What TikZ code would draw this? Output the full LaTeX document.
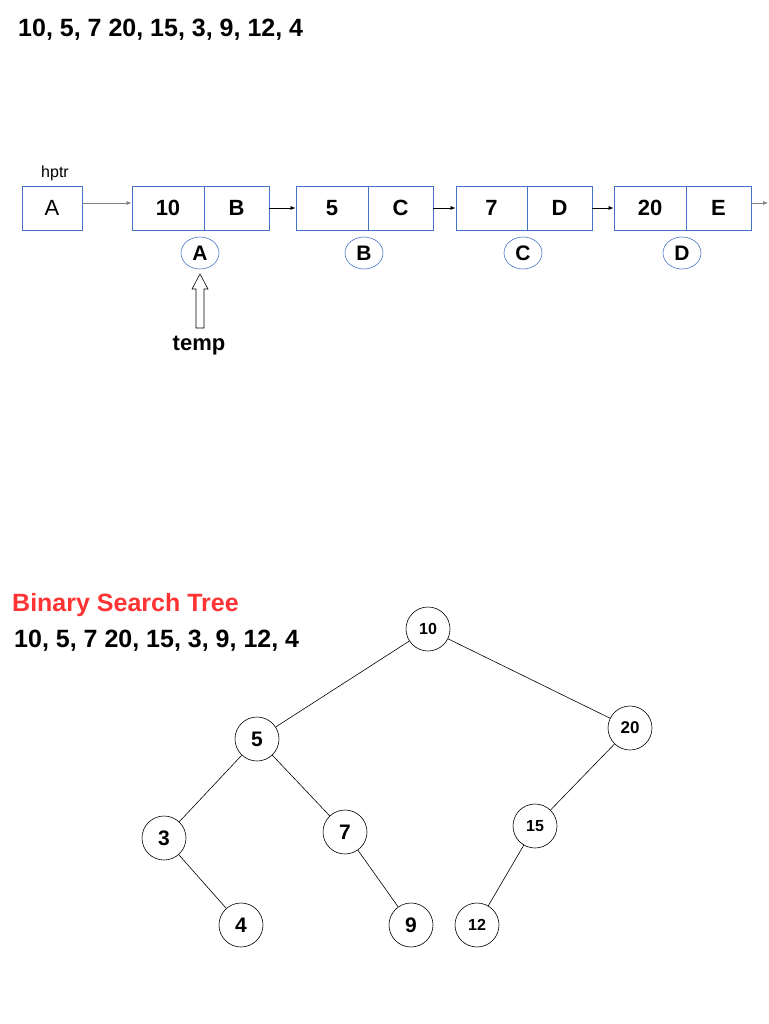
\documentclass[tikz,border=0pt]{standalone}
\usepackage{fontspec}
\setmainfont{Liberation Sans}
\usetikzlibrary{arrows.meta,shapes.geometric}
\definecolor{boxblue}{RGB}{68,114,196}
\definecolor{titlered}{RGB}{255,51,51}
\tikzset{
  cell/.style={draw=boxblue,line width=0.8pt,minimum height=44,inner sep=0,font=\fontsize{22}{26}\selectfont\bfseries},
  addr/.style={draw=boxblue,line width=0.6pt,ellipse,minimum width=38,minimum height=32,inner sep=0,font=\fontsize{21}{25}\selectfont\bfseries},
  link/.style={-{Latex[length=5pt,width=4pt]},line width=0.7pt},
  bst/.style={draw,circle,line width=0.6pt,minimum size=44,inner sep=0},
  big/.style={font=\fontsize{21}{25}\selectfont\bfseries},
  small/.style={font=\fontsize{16}{19}\selectfont\bfseries},
  headline/.style={anchor=west,inner sep=0,font=\fontsize{25}{30}\selectfont\bfseries},
}
\begin{document}
\begin{tikzpicture}[x=1pt,y=-1pt]
    \useasboundingbox (0,0) rectangle (768,1024);
    % linked list
    \node (seq) at (18,30) [headline] {10, 5, 7 20, 15, 3, 9, 12, 4};
    \node (hptr) at (52,208) [draw=boxblue,line width=0.8pt,minimum width=60,minimum height=44,inner sep=0,font=\fontsize{22}{26}\selectfont] {A};
    \node (hlbl) at (55,173) [font=\fontsize{16}{19}\selectfont] {hptr};
    \node (v1) at (168,208) [cell,minimum width=72] {10};
    \node (p1) at (236.5,208) [cell,minimum width=65] {B};
    \node (v2) at (332,208) [cell,minimum width=72] {5};
    \node (p2) at (400.5,208) [cell,minimum width=65] {C};
    \node (v3) at (491.5,208) [cell,minimum width=71] {7};
    \node (p3) at (559.5,208) [cell,minimum width=65] {D};
    \node (v4) at (650,208) [cell,minimum width=72] {20};
    \node (p4) at (718.5,208) [cell,minimum width=65] {E};
    \coordinate (tail) at (768,203);
    \draw[link,gray] (hptr.east) ++(0,-5) coordinate (hout) -- (hout -| v1.west);
    \draw[link] (p1.east) -- (v2.west);
    \draw[link] (p2.east) -- (v3.west);
    \draw[link] (p3.east) -- (v4.west);
    \draw[link,gray] (p4.east |- tail) -- (tail);
    \node (ea) at (200,253) [addr] {A};
    \node (eb) at (364,253) [addr] {B};
    \node (ec) at (523,253) [addr] {C};
    \node (ed) at (682,253) [addr] {D};
    % hollow pointer arrow
    \coordinate (tip) at (200,274);
    \draw[line width=0.6pt,fill=white] (tip) -- ++(8,15) -- ++(-4,0) -- ++(0,39) -- ++(-8,0) -- ++(0,-39) -- ++(-4,0) -- cycle;
    \node (temp) at (199,346) [font=\fontsize{22}{26}\selectfont\bfseries] {temp};
    % binary search tree
    \node (title) at (12,605) [headline,text=titlered] {Binary Search Tree};
    \node (seq2) at (14,641) [headline] {10, 5, 7 20, 15, 3, 9, 12, 4};
    \node (n10) at (428,629) [bst,small] {10};
    \node (n5) at (257,739) [bst,big] {5};
    \node (n20) at (630,728) [bst,font=\fontsize{17}{20}\selectfont\bfseries] {20};
    \node (n3) at (164,838) [bst,big] {3};
    \node (n7) at (345,832) [bst,big] {7};
    \node (n15) at (535,826) [bst,small] {15};
    \node (n4) at (241,925) [bst,big] {4};
    \node (n9) at (411,925) [bst,big] {9};
    \node (n12) at (477,925) [bst,small] {12};
    \draw[line width=0.6pt] (n10) -- (n5);
    \draw[line width=0.6pt] (n10) -- (n20);
    \draw[line width=0.6pt] (n5) -- (n3);
    \draw[line width=0.6pt] (n5) -- (n7);
    \draw[line width=0.6pt] (n3) -- (n4);
    \draw[line width=0.6pt] (n7) -- (n9);
    \draw[line width=0.6pt] (n20) -- (n15);
    \draw[line width=0.6pt] (n15) -- (n12);
\end{tikzpicture}
\end{document}
